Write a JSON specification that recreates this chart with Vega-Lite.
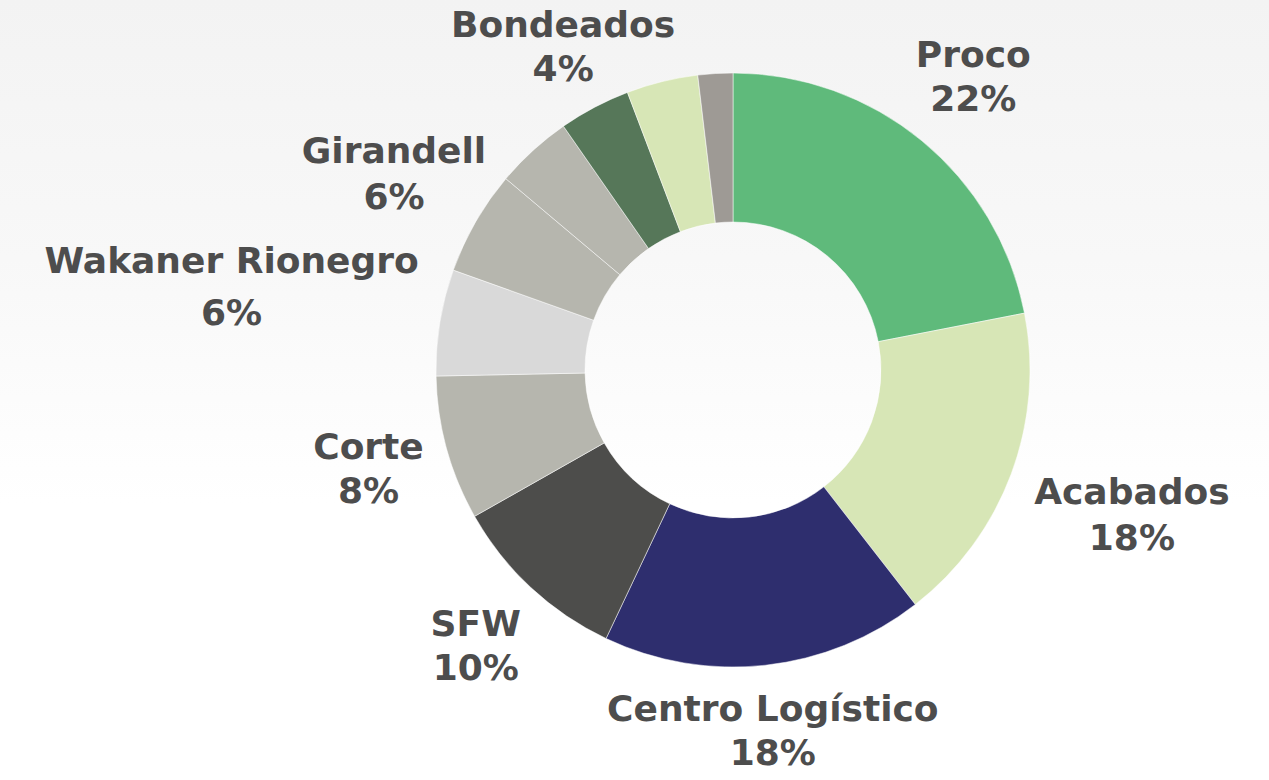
{
  "$schema": "https://vega.github.io/schema/vega-lite/v6.json",
  "width": 1269,
  "height": 740,
  "autosize": {"type": "none"},
  "padding": {"left": 0, "right": 0, "top": 0, "bottom": 40},
  "background": "#ffffff",
  "config": {"view": {"stroke": null}},
  "data": {
    "values": [
      {"i": 1, "nombre": "Proco", "valor": 22.0, "etiqueta": "Proco\n22%"},
      {"i": 2, "nombre": "Acabados", "valor": 17.6, "etiqueta": "Acabados\n18%"},
      {"i": 3, "nombre": "Centro Logístico", "valor": 17.6, "etiqueta": "Centro Logístico\n18%"},
      {"i": 4, "nombre": "SFW", "valor": 9.8, "etiqueta": "SFW\n10%"},
      {"i": 5, "nombre": "Corte", "valor": 7.9, "etiqueta": "Corte\n8%"},
      {"i": 6, "nombre": "Wakaner Rionegro", "valor": 5.8, "etiqueta": "Wakaner Rionegro\n6%"},
      {"i": 7, "nombre": "Girandell", "valor": 5.7, "etiqueta": "Girandell\n6%"},
      {"i": 8, "nombre": "Otro 1", "valor": 4.2, "etiqueta": ""},
      {"i": 9, "nombre": "Bondeados", "valor": 3.9, "etiqueta": "Bondeados\n4%"},
      {"i": 10, "nombre": "Otro 2", "valor": 3.9, "etiqueta": ""},
      {"i": 11, "nombre": "Otro 3", "valor": 1.9, "etiqueta": ""}
    ]
  },
  "layer": [
    {
      "data": {"values": [{"fondo": 1}]},
      "mark": {
        "type": "rect",
        "x": 0, "x2": "width", "y": 0, "y2": "height",
        "fill": {
          "gradient": "linear",
          "x1": 0, "y1": 0, "x2": 0, "y2": 1,
          "stops": [
            {"offset": 0, "color": "#f3f3f3"},
            {"offset": 0.35, "color": "#f8f8f8"},
            {"offset": 0.68, "color": "#ffffff"},
            {"offset": 1, "color": "#ffffff"}
          ]
        }
      }
    },
    {
      "mark": {"type": "arc", "outerRadius": 297, "innerRadius": 148, "stroke": "#ffffff", "strokeWidth": 0.5, "xOffset": 98.5},
      "encoding": {
        "theta": {"field": "valor", "type": "quantitative", "stack": true},
        "order": {"field": "i", "type": "quantitative"},
        "color": {
          "field": "nombre", "type": "nominal", "legend": null,
          "scale": {
            "domain": ["Proco", "Acabados", "Centro Logístico", "SFW", "Corte", "Wakaner Rionegro", "Girandell", "Otro 1", "Bondeados", "Otro 2", "Otro 3"],
            "range": ["#5fba7b", "#d7e6b6", "#2e2e6e", "#4d4d4b", "#b6b6ae", "#d9d9d9", "#b6b6ae", "#b6b6ae", "#567759", "#d7e6b6", "#9e9a95"]
          }
        }
      }
    },
    {
      "mark": {"type": "text", "radius": 364, "dy": -22, "font": "DejaVu Sans", "fontWeight": 700, "fontSize": 36, "lineHeight": 44, "lineBreak": "\n", "align": "center", "baseline": "middle", "xOffset": 98.5},
      "encoding": {
        "theta": {"field": "valor", "type": "quantitative", "stack": true},
        "order": {"field": "i", "type": "quantitative"},
        "detail": {"field": "nombre", "type": "nominal"},
        "color": {"value": "#4d4d4d"},
        "text": {"condition": {"test": "indexof(['Centro Logístico','Bondeados'], datum.nombre) >= 0", "field": "etiqueta"}, "value": ""}
      }
    },
    {
      "mark": {"type": "text", "radius": 378, "dy": -22, "font": "DejaVu Sans", "fontWeight": 700, "fontSize": 36, "lineHeight": 44, "lineBreak": "\n", "align": "center", "baseline": "middle", "xOffset": 98.5},
      "encoding": {
        "theta": {"field": "valor", "type": "quantitative", "stack": true},
        "order": {"field": "i", "type": "quantitative"},
        "detail": {"field": "nombre", "type": "nominal"},
        "color": {"value": "#4d4d4d"},
        "text": {"condition": {"test": "indexof(['Proco','SFW','Corte'], datum.nombre) >= 0", "field": "etiqueta"}, "value": ""}
      }
    },
    {
      "mark": {"type": "text", "radius": 391, "dy": -23, "font": "DejaVu Sans", "fontWeight": 700, "fontSize": 36, "lineHeight": 46, "lineBreak": "\n", "align": "center", "baseline": "middle", "xOffset": 98.5},
      "encoding": {
        "theta": {"field": "valor", "type": "quantitative", "stack": true},
        "order": {"field": "i", "type": "quantitative"},
        "detail": {"field": "nombre", "type": "nominal"},
        "color": {"value": "#4d4d4d"},
        "text": {"condition": {"test": "datum.nombre === 'Girandell'", "field": "etiqueta"}, "value": ""}
      }
    },
    {
      "mark": {"type": "text", "radius": 426, "dy": -27, "font": "DejaVu Sans", "fontWeight": 700, "fontSize": 36, "lineHeight": 46, "lineBreak": "\n", "align": "center", "baseline": "middle", "xOffset": 98.5},
      "encoding": {
        "theta": {"field": "valor", "type": "quantitative", "stack": true},
        "order": {"field": "i", "type": "quantitative"},
        "detail": {"field": "nombre", "type": "nominal"},
        "color": {"value": "#4d4d4d"},
        "text": {"condition": {"test": "datum.nombre === 'Acabados'", "field": "etiqueta"}, "value": ""}
      }
    },
    {
      "mark": {"type": "text", "radius": 508, "dy": -26, "font": "DejaVu Sans", "fontWeight": 700, "fontSize": 36, "lineHeight": 52, "lineBreak": "\n", "align": "center", "baseline": "middle", "xOffset": 98.5},
      "encoding": {
        "theta": {"field": "valor", "type": "quantitative", "stack": true},
        "order": {"field": "i", "type": "quantitative"},
        "detail": {"field": "nombre", "type": "nominal"},
        "color": {"value": "#4d4d4d"},
        "text": {"condition": {"test": "datum.nombre === 'Wakaner Rionegro'", "field": "etiqueta"}, "value": ""}
      }
    }
  ]
}
